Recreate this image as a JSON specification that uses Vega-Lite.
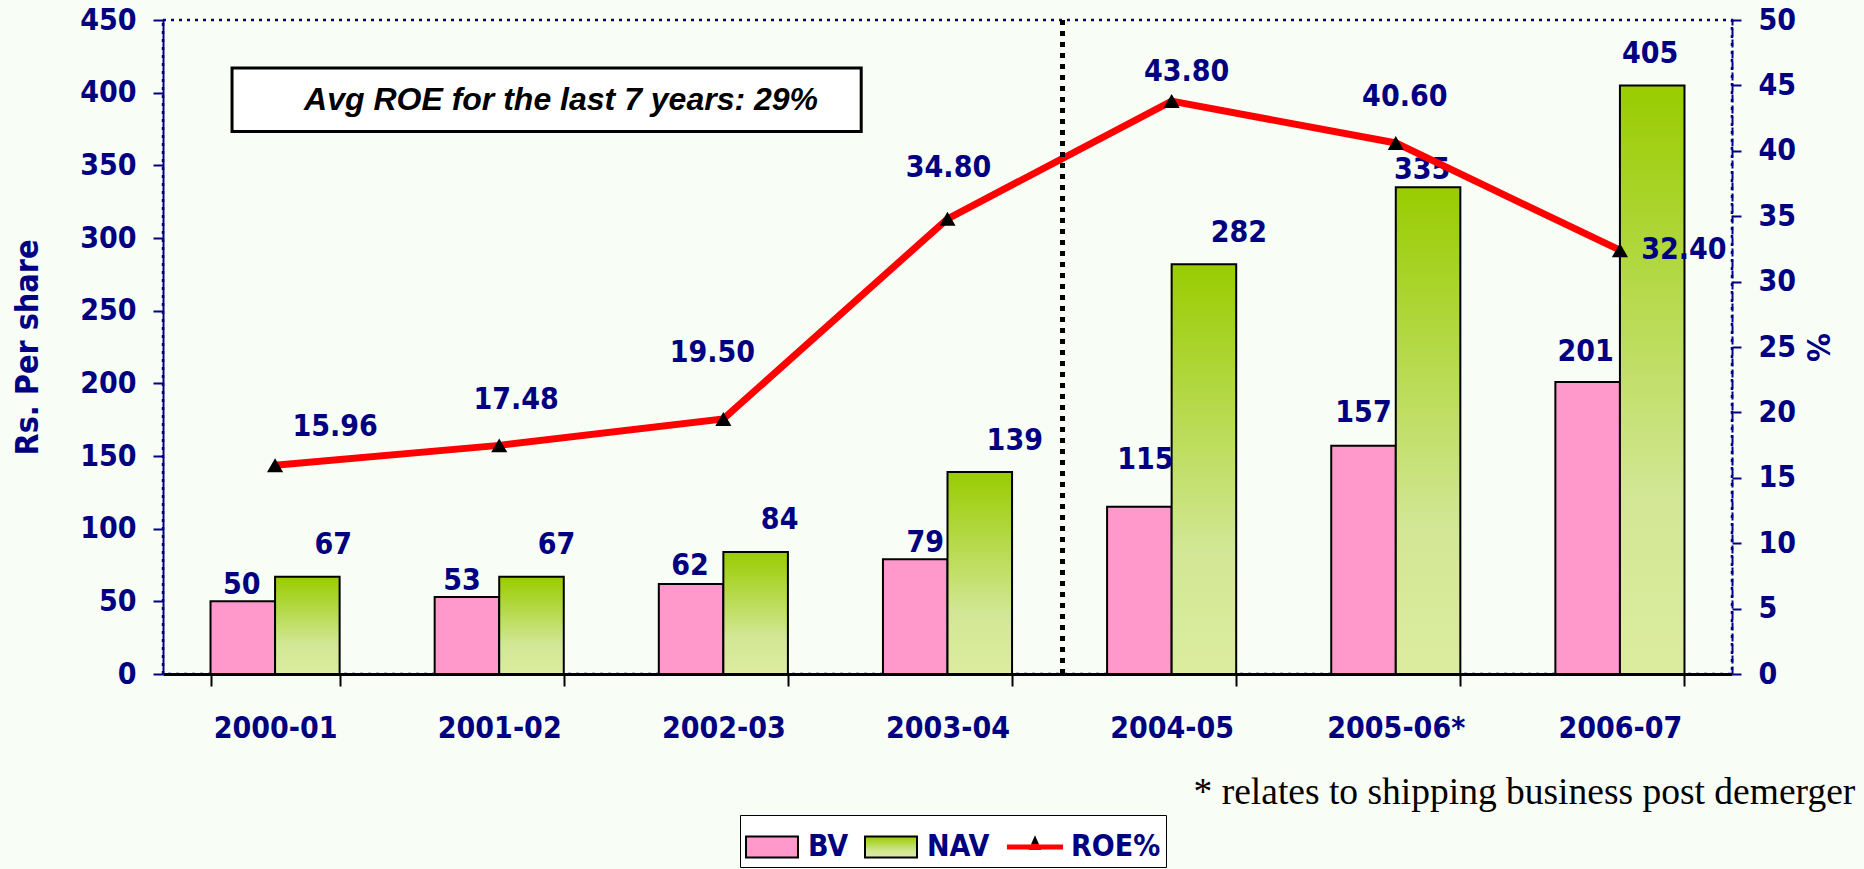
{
  "$schema": "https://vega.github.io/schema/vega-lite/v6.json",
  "width": 1569,
  "height": 654,
  "autosize": {"type": "none"},
  "padding": {"left": 163, "top": 20, "right": 132, "bottom": 195},
  "background": "#f8fdf6",
  "config": {
    "view": {"stroke": "#000080", "strokeDash": [3, 5], "strokeWidth": 2.5},
    "axis": {
      "grid": false,
      "labelFont": "DejaVu Sans Condensed, DejaVu Sans",
      "labelFontWeight": "bold",
      "labelFontSize": 30,
      "labelColor": "#000080",
      "titleFont": "DejaVu Sans Condensed, DejaVu Sans",
      "titleFontWeight": "bold",
      "titleFontSize": 32,
      "titleColor": "#000080"
    }
  },
  "datasets": {
    "main": [
      {"year": "2000-01", "BV": 50, "NAV": 67, "ROE": 15.96},
      {"year": "2001-02", "BV": 53, "NAV": 67, "ROE": 17.48},
      {"year": "2002-03", "BV": 62, "NAV": 84, "ROE": 19.5},
      {"year": "2003-04", "BV": 79, "NAV": 139, "ROE": 34.8},
      {"year": "2004-05", "BV": 115, "NAV": 282, "ROE": 43.8},
      {"year": "2005-06*", "BV": 157, "NAV": 335, "ROE": 40.6},
      {"year": "2006-07", "BV": 201, "NAV": 405, "ROE": 32.4}
    ]
  },
  "layer": [
    {
      "data": {"name": "main"},
      "encoding": {
        "x": {
          "field": "year",
          "type": "nominal",
          "sort": null,
          "scale": {
            "domain": ["2000-01", "2001-02", "2002-03", "2003-04", "2004-05", "2005-06*", "2006-07"],
            "paddingInner": 0.424,
            "paddingOuter": 0.212
          },
          "axis": {
            "title": null,
            "labelAngle": 0,
            "tickBand": "extent",
            "domainColor": "black",
            "domainWidth": 3,
            "tickColor": "black",
            "tickWidth": 2,
            "tickSize": 12,
            "labelPadding": 27
          }
        }
      },
      "layer": [
        {
          "transform": [{"fold": ["BV", "NAV"], "as": ["series", "value"]}],
          "encoding": {
            "y": {
              "field": "value",
              "type": "quantitative",
              "scale": {"domain": [0, 450]},
              "axis": {
                "title": "Rs. Per share",
                "values": [0, 50, 100, 150, 200, 250, 300, 350, 400, 450],
                "domainColor": "#000080",
                "domainWidth": 2,
                "tickColor": "#000080",
                "tickWidth": 2,
                "tickSize": 10,
                "labelPadding": 17,
                "titlePadding": 35
              }
            },
            "xOffset": {
              "field": "series",
              "type": "nominal",
              "scale": {"domain": ["BV", "NAV"], "paddingInner": 0, "paddingOuter": 0}
            }
          },
          "layer": [
            {
              "mark": {"type": "bar", "strokeWidth": 2, "opacity": 1},
              "encoding": {
                "color": {
                  "field": "series",
                  "type": "nominal",
                  "scale": {
                    "domain": ["BV", "NAV", "ROE%"],
                    "range": [
                      "#ff99cc",
                      {"expr": "{gradient: 'linear', x1: 0, y1: 0, x2: 0, y2: 1, stops: [{offset: 0, color: '#99cc00'}, {offset: 0.7, color: '#d2e795'}, {offset: 1, color: '#dcec9f'}]}"},
                      {"expr": "{gradient: 'linear', x1: 0, y1: 0, x2: 0, y2: 1, stops: [{offset: 0, color: '#000000'}, {offset: 0.6, color: '#000000'}, {offset: 0.62, color: '#ff0000'}, {offset: 1, color: '#ff0000'}]}"}
                    ]
                  },
                  "legend": {
                    "title": null,
                    "orient": "none",
                    "legendX": 577,
                    "legendY": 795,
                    "direction": "horizontal",
                    "fillColor": "#ffffff",
                    "strokeColor": "#000000",
                    "padding": 5,
                    "symbolSize": 2704,
                    "symbolOpacity": 1,
                    "symbolStrokeWidth": 2,
                    "labelFont": "DejaVu Sans Condensed, DejaVu Sans",
                    "labelFontWeight": "bold",
                    "labelFontSize": 30,
                    "labelColor": "#000080",
                    "labelOffset": 9,
                    "columnPadding": 12
                  }
                },
                "stroke": {
                  "field": "series",
                  "type": "nominal",
                  "scale": {"domain": ["BV", "NAV", "ROE%"], "range": ["#000000", "#000000", "transparent"]},
                  "legend": {"symbolOpacity": 1}
                }
              }
            },
            {
              "mark": {"type": "point", "opacity": 0, "filled": true},
              "encoding": {
                "shape": {
                  "field": "series",
                  "type": "nominal",
                  "scale": {
                    "domain": ["BV", "NAV", "ROE%"],
                    "range": [
                      "M-1,-0.4H1V0.4H-1Z",
                      "M-1,-0.4H1V0.4H-1Z",
                      "M-1.08,-0.1H1.08V0.1H-1.08Z M-0.25,0.12L0,-0.45L0.25,0.12Z"
                    ]
                  },
                  "legend": {"symbolOpacity": 1}
                }
              }
            },
            {
              "mark": {
                "type": "text",
                "font": "DejaVu Sans Condensed, DejaVu Sans",
                "fontWeight": "bold",
                "fontSize": 30,
                "color": "#000080",
                "baseline": "middle",
                "align": "center",
                "dx": {"expr": "(datum.series === 'BV' ? [-1,-5,-1,10,6,0,-2] : [26,25,24,35,35,-6,-2])[indexof(['2000-01','2001-02','2002-03','2003-04','2004-05','2005-06*','2006-07'], datum.year)]"},
                "dy": {"expr": "(datum.series === 'BV' ? [-16,-16,-18,-16,-47,-33,-30] : [-32,-32,-32,-31,-31,-17,-31])[indexof(['2000-01','2001-02','2002-03','2003-04','2004-05','2005-06*','2006-07'], datum.year)]"}
              },
              "encoding": {"text": {"field": "value", "type": "quantitative"}}
            }
          ]
        },
        {
          "encoding": {
            "y": {
              "field": "ROE",
              "type": "quantitative",
              "scale": {"domain": [0, 50]},
              "axis": {
                "orient": "right",
                "title": "%",
                "values": [0, 5, 10, 15, 20, 25, 30, 35, 40, 45, 50],
                "domainColor": "#000080",
                "domainWidth": 2,
                "domainDash": [8, 3],
                "tickColor": "#000080",
                "tickWidth": 2,
                "tickSize": 9,
                "labelPadding": 17,
                "titlePadding": 4
              }
            }
          },
          "layer": [
            {"mark": {"type": "line", "color": "#ff0000", "strokeWidth": 7}},
            {"mark": {"type": "point", "shape": "triangle-up", "filled": true, "color": "#000000", "size": 260, "opacity": 1}},
            {
              "mark": {
                "type": "text",
                "font": "DejaVu Sans Condensed, DejaVu Sans",
                "fontWeight": "bold",
                "fontSize": 30,
                "color": "#000080",
                "baseline": "middle",
                "align": "center",
                "dx": {"expr": "[60,17,-11,1,15,9,64][indexof(['2000-01','2001-02','2002-03','2003-04','2004-05','2005-06*','2006-07'], datum.year)]"},
                "dy": {"expr": "[-38,-45,-66,-51,-29,-46,0][indexof(['2000-01','2001-02','2002-03','2003-04','2004-05','2005-06*','2006-07'], datum.year)]"}
              },
              "encoding": {"text": {"field": "ROE", "type": "quantitative", "format": ".2f"}}
            }
          ]
        }
      ],
      "resolve": {"scale": {"y": "independent"}}
    },
    {
      "data": {"values": [{"note": "Avg ROE for the last 7 years: 29%", "footnote": "* relates to shipping business post demerger"}]},
      "layer": [
        {
          "mark": {"type": "rule", "color": "#000000", "strokeWidth": 5, "strokeDash": [5, 6]},
          "encoding": {
            "x": {"datum": 4.013, "type": "quantitative", "scale": {"domain": [0, 7], "nice": false, "zero": false}, "axis": null}
          }
        },
        {
          "mark": {"type": "rect", "fill": "#ffffff", "stroke": "#000000", "strokeWidth": 3},
          "encoding": {
            "x": {"datum": 0.308, "type": "quantitative", "scale": {"domain": [0, 7], "nice": false, "zero": false}, "axis": null},
            "x2": {"datum": 3.115},
            "y": {"datum": 417, "type": "quantitative", "scale": {"domain": [0, 450], "nice": false}, "axis": null},
            "y2": {"datum": 373.3}
          }
        },
        {
          "mark": {"type": "text", "font": "Liberation Sans", "fontStyle": "italic", "fontWeight": "bold", "fontSize": 32, "color": "#000000", "align": "center", "baseline": "middle"},
          "encoding": {
            "text": {"field": "note"},
            "x": {"datum": 1.776, "type": "quantitative", "scale": {"domain": [0, 7], "nice": false, "zero": false}, "axis": null},
            "y": {"datum": 395, "type": "quantitative", "scale": {"domain": [0, 450], "nice": false}, "axis": null}
          }
        },
        {
          "mark": {"type": "text", "font": "Liberation Serif", "fontSize": 37.5, "color": "#000000", "align": "right", "baseline": "middle"},
          "encoding": {
            "text": {"field": "footnote"},
            "x": {"datum": 7.55, "type": "quantitative", "scale": {"domain": [0, 7], "nice": false, "zero": false}, "axis": null},
            "y": {"datum": -81.9, "type": "quantitative", "scale": {"domain": [0, 450], "nice": false}, "axis": null}
          }
        }
      ]
    }
  ],
  "resolve": {"scale": {"x": "independent", "y": "independent"}}
}
